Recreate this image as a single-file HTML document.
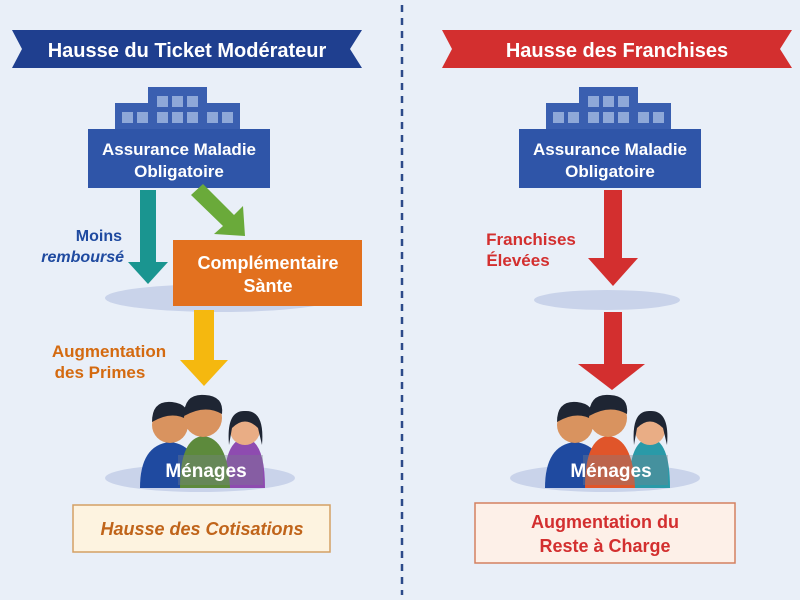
<!DOCTYPE html>
<html><head><meta charset="utf-8"><style>body{margin:0;background:#e9eff8}svg{display:block}text{font-family:"Liberation Sans",sans-serif;font-weight:bold}</style></head><body>
<svg width="800" height="600" viewBox="0 0 800 600">
<rect width="800" height="600" fill="#e9eff8"/>
<line x1="402" y1="5" x2="402" y2="595" stroke="#2c4a8a" stroke-width="2.5" stroke-dasharray="7,6"/>
<polygon points="12,30 362,30 350,49 362,68 12,68 22,49" fill="#1f3f8f"/>
<text x="187" y="57" font-size="20" fill="#fff" text-anchor="middle">Hausse du Ticket Modérateur</text>
<polygon points="442,30 792,30 780,49 792,68 442,68 452,49" fill="#d32f2f"/>
<text x="617" y="57" font-size="20" fill="#fff" text-anchor="middle">Hausse des Franchises</text>
<g id="bld">
<rect x="148" y="87" width="59" height="20" fill="#3a5fb0"/>
<rect x="115" y="103" width="125" height="28" fill="#3a5fb0"/>
<g fill="#8ea8d8"><rect x="122" y="112" width="11" height="11"/><rect x="137" y="112" width="11" height="11"/><rect x="157" y="112" width="11" height="11"/><rect x="172" y="112" width="11" height="11"/><rect x="187" y="112" width="11" height="11"/><rect x="207" y="112" width="11" height="11"/><rect x="222" y="112" width="11" height="11"/><rect x="157" y="96" width="11" height="11"/><rect x="172" y="96" width="11" height="11"/><rect x="187" y="96" width="11" height="11"/></g>
<rect x="88" y="129" width="182" height="59" fill="#2f55a8"/>
<text x="179" y="155" font-size="17" fill="#fff" text-anchor="middle">Assurance Maladie</text>
<text x="179" y="177" font-size="17" fill="#fff" text-anchor="middle">Obligatoire</text>
</g>
<use href="#bld" x="431"/>
<ellipse cx="220" cy="298" rx="115" ry="14" fill="#c9d3ea"/>
<rect x="140" y="190" width="16" height="72" fill="#1a9590"/>
<polygon points="128,262 168,262 148,284" fill="#1a9590"/>
<polygon points="191,195 203,184 234,215 243,206 245,236 214,234 223,226" fill="#6aaa3a"/>
<rect x="173" y="240" width="189" height="66" fill="#e2701e"/>
<text x="268" y="269" font-size="18" fill="#fff" text-anchor="middle">Complémentaire</text>
<text x="268" y="292" font-size="18" fill="#fff" text-anchor="middle">Sànte</text>
<text x="122" y="241" font-size="16" fill="#1f4aa0" text-anchor="end">Moins</text>
<text x="124" y="262" font-size="16" fill="#1f4aa0" text-anchor="end" font-style="italic">remboursé</text>
<rect x="194" y="310" width="20" height="50" fill="#f5b80f"/>
<polygon points="180,360 228,360 204,386" fill="#f5b80f"/>
<text x="109" y="357" font-size="17" fill="#d46a10" text-anchor="middle">Augmentation</text>
<text x="100" y="378" font-size="17" fill="#d46a10" text-anchor="middle">des Primes</text>
<g>
<ellipse cx="200" cy="478" rx="95" ry="14" fill="#c9d3ea"/>
<path d="M140 488 Q140 445 170 442 Q200 445 200 488Z" fill="#1f4aa0"/>
<path d="M224 488 Q224 440 245 438 Q265 440 265 488Z" fill="#8e4bb0"/>
<path d="M180 488 Q180 438 203 436 Q228 438 230 488Z" fill="#5d8a3c"/>
<circle cx="170" cy="425" r="18" fill="#d9935f"/><path d="M152 422 Q152 400 172 402 Q190 404 188 420 Q172 410 152 422Z" fill="#1e2533"/>
<circle cx="245" cy="430" r="15" fill="#e9ad85"/><path d="M229 445 Q226 410 245 411 Q265 410 262 445 L258 428 Q245 415 232 428Z" fill="#1e2533"/>
<circle cx="203" cy="418" r="19" fill="#d9935f"/><path d="M184 416 Q184 393 205 395 Q224 396 222 414 Q205 404 184 416Z" fill="#1e2533"/>
<rect x="178" y="455" width="85" height="30" fill="rgba(120,130,140,0.35)"/>
<text x="206" y="477" font-size="19" fill="#fff" text-anchor="middle">Ménages</text>
</g>
<rect x="73" y="505" width="257" height="47" fill="#fdf3e0" stroke="#d4a064" stroke-width="1.5"/>
<text x="202" y="535" font-size="18" fill="#c0641a" text-anchor="middle" font-style="italic">Hausse des Cotisations</text>
<ellipse cx="607" cy="300" rx="73" ry="10" fill="#c9d3ea"/>
<rect x="604" y="190" width="18" height="68" fill="#d32f2f"/>
<polygon points="588,258 638,258 613,286" fill="#d32f2f"/>
<rect x="604" y="312" width="18" height="52" fill="#d32f2f"/>
<polygon points="578,364 645,364 612,390" fill="#d32f2f"/>
<text x="531" y="245" font-size="17" fill="#d32f2f" text-anchor="middle">Franchises</text>
<text x="518" y="266" font-size="17" fill="#d32f2f" text-anchor="middle">Élevées</text>
<g transform="translate(405,0)">
<ellipse cx="200" cy="478" rx="95" ry="14" fill="#c9d3ea"/>
<path d="M140 488 Q140 445 170 442 Q200 445 200 488Z" fill="#1f4aa0"/>
<path d="M224 488 Q224 440 245 438 Q265 440 265 488Z" fill="#2a9aa8"/>
<path d="M180 488 Q180 438 203 436 Q228 438 230 488Z" fill="#e0552a"/>
<circle cx="170" cy="425" r="18" fill="#d9935f"/><path d="M152 422 Q152 400 172 402 Q190 404 188 420 Q172 410 152 422Z" fill="#1e2533"/>
<circle cx="245" cy="430" r="15" fill="#e9ad85"/><path d="M229 445 Q226 410 245 411 Q265 410 262 445 L258 428 Q245 415 232 428Z" fill="#1e2533"/>
<circle cx="203" cy="418" r="19" fill="#d9935f"/><path d="M184 416 Q184 393 205 395 Q224 396 222 414 Q205 404 184 416Z" fill="#1e2533"/>
<rect x="178" y="455" width="85" height="30" fill="rgba(120,130,140,0.35)"/>
<text x="206" y="477" font-size="19" fill="#fff" text-anchor="middle">Ménages</text>
</g>
<rect x="475" y="503" width="260" height="60" fill="#fdf0e8" stroke="#d48060" stroke-width="1.5"/>
<text x="605" y="528" font-size="18" fill="#d32f2f" text-anchor="middle">Augmentation du</text>
<text x="605" y="552" font-size="18" fill="#d32f2f" text-anchor="middle">Reste à Charge</text>
</svg>
</body></html>
